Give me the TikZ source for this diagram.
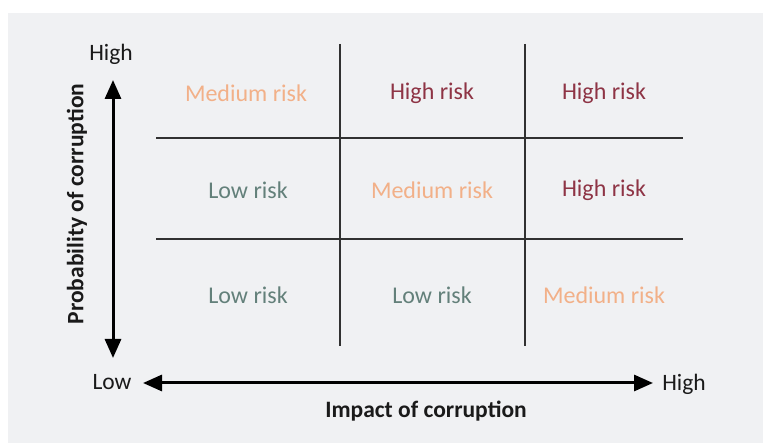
\documentclass[tikz,border=0pt]{standalone}
\usepackage{fontspec}
\setmainfont{Carlito}
\usetikzlibrary{arrows.meta}
\definecolor{bg}{HTML}{F0F1F3}
\definecolor{medc}{HTML}{F2B088}
\definecolor{highc}{HTML}{8E3445}
\definecolor{lowc}{HTML}{63807A}
\definecolor{ink}{HTML}{1A1A1A}
\tikzset{
  grid/.style={draw=ink!90, line width=1.8pt},
  axis/.style={draw=black, line width=3pt, {Triangle[length=19pt,width=16pt]}-{Triangle[length=19pt,width=16pt]}},
  cell/.style={font=\fontsize{24}{28}\selectfont, inner sep=0pt},
  med/.style={cell, text=medc},
  hi/.style={cell, text=highc},
  lo/.style={cell, text=lowc},
  lab/.style={font=\fontsize{23.5}{27}\selectfont, text=ink, inner sep=0pt},
  title/.style={font=\fontsize{23.5}{27}\selectfont\bfseries, text=ink, inner sep=0pt}
}
\begin{document}
\begin{tikzpicture}[x=1pt,y=-1pt]
\useasboundingbox (0,0) rectangle (763,443);
\fill[white] (0,0) rectangle (763,443);
\fill[bg] (8,13) rectangle (763,443);
% grid
\coordinate (v1t) at (340,44); \coordinate (v1b) at (340,346);
\coordinate (v2t) at (525,44); \coordinate (v2b) at (525,346);
\coordinate (h1l) at (156,138); \coordinate (h1r) at (683,138);
\coordinate (h2l) at (156,239); \coordinate (h2r) at (683,239);
\draw[grid] (v1t) -- (v1b);
\draw[grid] (v2t) -- (v2b);
\draw[grid] (h1l) -- (h1r);
\draw[grid] (h2l) -- (h2r);
% axes
\coordinate (yt) at (113,80); \coordinate (yb) at (113,358);
\coordinate (xl) at (143,383); \coordinate (xr) at (653,383);
\draw[axis] (yt) -- (yb);
\draw[axis] (xl) -- (xr);
\node[lab] (yhigh) at (111,54) {High};
\node[lab] (xlow) at (112,382) {Low};
\node[lab] (xhigh) at (684,384) {High};
\node[title, rotate=90] (ytitle) at (77,204) {Probability of corruption};
\node[title] (xtitle) at (426,411) {Impact of corruption};
% cells
\node[med] (c11) at (246,93) {Medium risk};
\node[hi]  (c12) at (432,93) {High risk};
\node[hi]  (c13) at (604,93) {High risk};
\node[lo]  (c21) at (248,190) {Low risk};
\node[med] (c22) at (432,190) {Medium risk};
\node[hi]  (c23) at (604,190) {High risk};
\node[lo]  (c31) at (248,295) {Low risk};
\node[lo]  (c32) at (432,295) {Low risk};
\node[med] (c33) at (604,295) {Medium risk};
\end{tikzpicture}
\end{document}
